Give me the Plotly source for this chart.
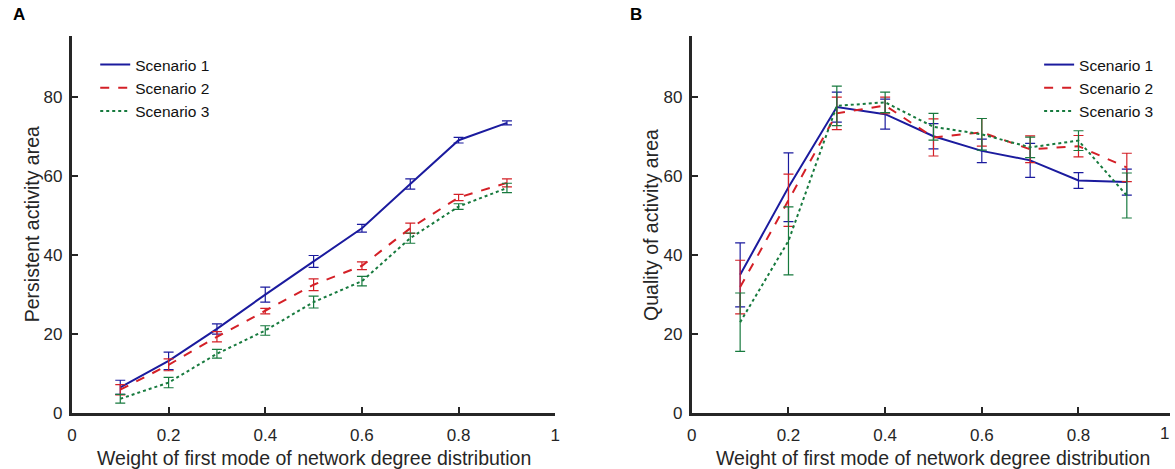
import plotly.graph_objects as go

W, H = 1175, 469

x_vals = [0.1, 0.2, 0.3, 0.4, 0.5, 0.6, 0.7, 0.8, 0.9]

# Panel A: Persistent activity area
a_s1 = [6.5, 13.2, 21.3, 30.0, 38.4, 46.8, 58.0, 69.1, 73.5]
a_s1_err = [1.8, 2.2, 1.3, 1.9, 1.5, 1.0, 1.3, 0.7, 0.5]
a_s2 = [5.9, 12.2, 19.3, 25.8, 32.5, 37.3, 46.8, 54.6, 58.3]
a_s2_err = [1.3, 1.5, 1.3, 0.7, 1.5, 1.0, 1.3, 0.8, 1.0]
a_s3 = [3.6, 7.7, 15.0, 20.9, 28.1, 33.4, 44.3, 52.3, 57.0]
a_s3_err = [1.1, 1.3, 1.1, 1.2, 1.5, 1.2, 1.3, 0.7, 1.2]

# Panel B: Quality of activity area
b_s1 = [35.0, 57.2, 77.5, 75.7, 70.1, 66.4, 64.0, 58.9, 58.5]
b_s1_err = [8.1, 8.7, 3.8, 3.8, 3.2, 3.0, 4.3, 2.0, 3.3]
b_s2 = [31.9, 53.9, 75.9, 77.9, 69.8, 71.1, 66.8, 67.6, 62.2]
b_s2_err = [6.8, 6.6, 4.1, 2.1, 4.7, 3.5, 3.4, 2.7, 3.6]
b_s3 = [23.0, 43.6, 77.8, 78.7, 72.5, 70.6, 67.3, 69.0, 55.1]
b_s3_err = [7.4, 8.6, 5.0, 2.6, 3.4, 4.0, 2.6, 2.5, 5.7]

names = ["Scenario 1", "Scenario 2", "Scenario 3"]
colors = ["#1b1b9e", "#d42027", "#177a3e"]
dashes = ["solid", "dash", "dot"]

x_ticks = [0, 0.2, 0.4, 0.6, 0.8, 1]
x_tick_text = ["0", "0.2", "0.4", "0.6", "0.8", "1"]
y_ticks = [0, 20, 40, 60, 80]

x_title = "Weight of first mode of network degree distribution"
ya_title = "Persistent activity area"
yb_title = "Quality of activity area"

FONT = "Liberation Sans, Arial"

fig = go.Figure()

def add_series(ys, errs, xa, ya, legend):
    for i in range(3):
        fig.add_trace(go.Scatter(
            x=x_vals, y=ys[i], mode="lines", name=names[i],
            xaxis=xa, yaxis=ya, legend=legend,
            line=dict(color=colors[i], width=2, dash=dashes[i]),
            error_y=dict(type="data", array=errs[i], visible=True,
                         color=colors[i], thickness=1.2, width=5),
        ))

add_series([a_s1, a_s2, a_s3], [a_s1_err, a_s2_err, a_s3_err], "x", "y", "legend")
add_series([b_s1, b_s2, b_s3], [b_s1_err, b_s2_err, b_s3_err], "x2", "y2", "legend2")

px_per_unit = 487.5
xa0, xb0 = 67.5, 692.7
top, bottom = 36, 413
span = bottom - top

axis_common = dict(
    showline=True, linecolor="#262626", linewidth=3,
    ticks="inside", ticklen=6, tickwidth=2, tickcolor="#262626",
    showgrid=False, zeroline=False,
    tickfont=dict(family=FONT, size=17, color="#262626"),
)

legend_font = dict(family=FONT, size=15.5, color="#111")

fig.update_layout(
    width=W, height=H,
    margin=dict(l=0, r=0, t=top, b=H - bottom),
    paper_bgcolor="white", plot_bgcolor="white",
    xaxis=dict(domain=[xa0 / W, (xa0 + px_per_unit) / W], range=[0, 1],
               tickvals=x_ticks, ticktext=x_tick_text, ticklabelstandoff=5,
               anchor="y", **axis_common),
    yaxis=dict(domain=[0, 1], range=[0, 95.5], tickvals=y_ticks, anchor="x",
               ticklabelstandoff=3, **axis_common),
    xaxis2=dict(domain=[xb0 / W, 1], range=[0, (W - xb0) / px_per_unit],
                tickvals=x_ticks[:-1], ticktext=x_tick_text[:-1], ticklabelstandoff=5,
                anchor="y2", **axis_common),
    yaxis2=dict(domain=[0, 1], range=[0, 95.5], tickvals=y_ticks, anchor="x2",
                ticklabelstandoff=3, **axis_common),
    legend=dict(x=91 / W, y=(bottom - 48) / span, xanchor="left", yanchor="top",
                bgcolor="rgba(0,0,0,0)", font=legend_font, tracegroupgap=0, itemwidth=30),
    legend2=dict(x=1043 / W, y=(bottom - 48) / span, xanchor="left", yanchor="top",
                 bgcolor="rgba(0,0,0,0)", font=legend_font, tracegroupgap=0, itemwidth=30),
    showlegend=True,
)

title_font = dict(family=FONT, size=19.5, color="#262626")
label_font = dict(family=FONT, size=17, color="black")
ann = [
    dict(text="<b>A</b>", x=14 / W, y=(bottom - 15) / span, font=label_font),
    dict(text="<b>B</b>", x=636 / W, y=(bottom - 15) / span, font=label_font),
    dict(text=x_title, x=(xa0 + px_per_unit / 2) / W, y=(bottom - 458) / span, font=title_font),
    dict(text=x_title, x=936 / W, y=(bottom - 458) / span, font=title_font),
    dict(text=ya_title, x=27 / W, y=0.5, textangle=-90, font=title_font),
    dict(text=yb_title, x=651 / W, y=0.5, textangle=-90, font=title_font),
    dict(text=x_tick_text[-1], x=1169 / W, y=(bottom - 433) / span,
         font=dict(family=FONT, size=17, color="#262626")),
]
for a in ann:
    base = dict(xref="paper", yref="paper", showarrow=False, xanchor="center", yanchor="middle")
    base.update(a)
    fig.add_annotation(**base)

fig.write_html("out.html")
